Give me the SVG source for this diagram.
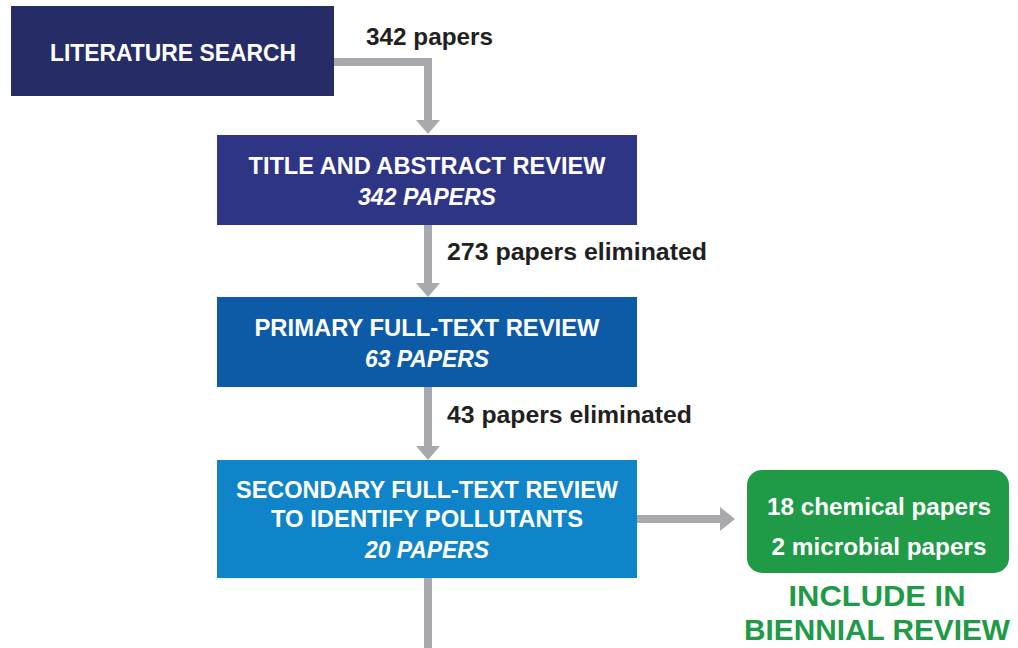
<svg xmlns="http://www.w3.org/2000/svg" width="1018" height="648" viewBox="0 0 1018 648">
<style>
.t{font-family:"Liberation Sans",Arial,sans-serif;font-weight:bold;fill:#fff;font-size:24px}
.i{font-style:italic}
.l{font-family:"Liberation Sans",Arial,sans-serif;font-weight:bold;fill:#231f20;font-size:24px}
.g{font-family:"Liberation Sans",Arial,sans-serif;font-weight:bold;fill:#1f9a46;font-size:30px}
.c{fill:none;stroke:#a7a9ac;stroke-width:8}
.h{fill:#a7a9ac}
</style>
<rect width="1018" height="648" fill="#fff"/>
<g id="connectors">
<path class="c" d="M334 62 H428 V122"/>
<polygon class="h" points="416,120 440,120 428,134"/>
<path class="c" d="M428 225 V284"/>
<polygon class="h" points="416,283 440,283 428,297"/>
<path class="c" d="M428 387 V447"/>
<polygon class="h" points="416,446 440,446 428,460"/>
<path class="c" d="M637 519 H722"/>
<polygon class="h" points="720,507 720,531 735,519"/>
<path class="c" d="M428 578 V648"/>
</g>
<g id="literature-search">
<rect x="11" y="6" width="323" height="90" fill="#262d66"/>
<text class="t" x="173" y="61" text-anchor="middle" textLength="246" lengthAdjust="spacingAndGlyphs">LITERATURE SEARCH</text>
</g>
<g id="label-342">
<text class="l" x="366" y="45" textLength="127" lengthAdjust="spacingAndGlyphs">342 papers</text>
</g>
<g id="title-abstract">
<rect x="217" y="135" width="420" height="90" fill="#2f3585"/>
<text class="t" x="427" y="174" text-anchor="middle" textLength="357" lengthAdjust="spacingAndGlyphs">TITLE AND ABSTRACT REVIEW</text>
<text class="t i" x="427" y="205" text-anchor="middle" textLength="138" lengthAdjust="spacingAndGlyphs">342 PAPERS</text>
</g>
<g id="label-273">
<text class="l" x="447" y="260" textLength="260" lengthAdjust="spacingAndGlyphs">273 papers eliminated</text>
</g>
<g id="primary-review">
<rect x="217" y="297" width="420" height="90" fill="#0d5aa6"/>
<text class="t" x="427" y="336" text-anchor="middle" textLength="345" lengthAdjust="spacingAndGlyphs">PRIMARY FULL-TEXT REVIEW</text>
<text class="t i" x="427" y="367" text-anchor="middle" textLength="124" lengthAdjust="spacingAndGlyphs">63 PAPERS</text>
</g>
<g id="label-43">
<text class="l" x="447" y="423" textLength="245" lengthAdjust="spacingAndGlyphs">43 papers eliminated</text>
</g>
<g id="secondary-review">
<rect x="217" y="460" width="420" height="118" fill="#0f84c8"/>
<text class="t" x="427" y="498" text-anchor="middle" textLength="382" lengthAdjust="spacingAndGlyphs">SECONDARY FULL-TEXT REVIEW</text>
<text class="t" x="427" y="527" text-anchor="middle" textLength="312" lengthAdjust="spacingAndGlyphs">TO IDENTIFY POLLUTANTS</text>
<text class="t i" x="427" y="558" text-anchor="middle" textLength="124" lengthAdjust="spacingAndGlyphs">20 PAPERS</text>
</g>
<g id="include">
<rect x="747" y="470" width="262" height="103" rx="15" fill="#1f9a46"/>
<text class="t" x="879" y="515" text-anchor="middle" textLength="224" lengthAdjust="spacingAndGlyphs">18 chemical papers</text>
<text class="t" x="879" y="555" text-anchor="middle" textLength="215" lengthAdjust="spacingAndGlyphs">2 microbial papers</text>
<text class="g" x="877" y="606" text-anchor="middle" textLength="177" lengthAdjust="spacingAndGlyphs">INCLUDE IN</text>
<text class="g" x="877" y="640" text-anchor="middle" textLength="266" lengthAdjust="spacingAndGlyphs">BIENNIAL REVIEW</text>
</g>
</svg>
